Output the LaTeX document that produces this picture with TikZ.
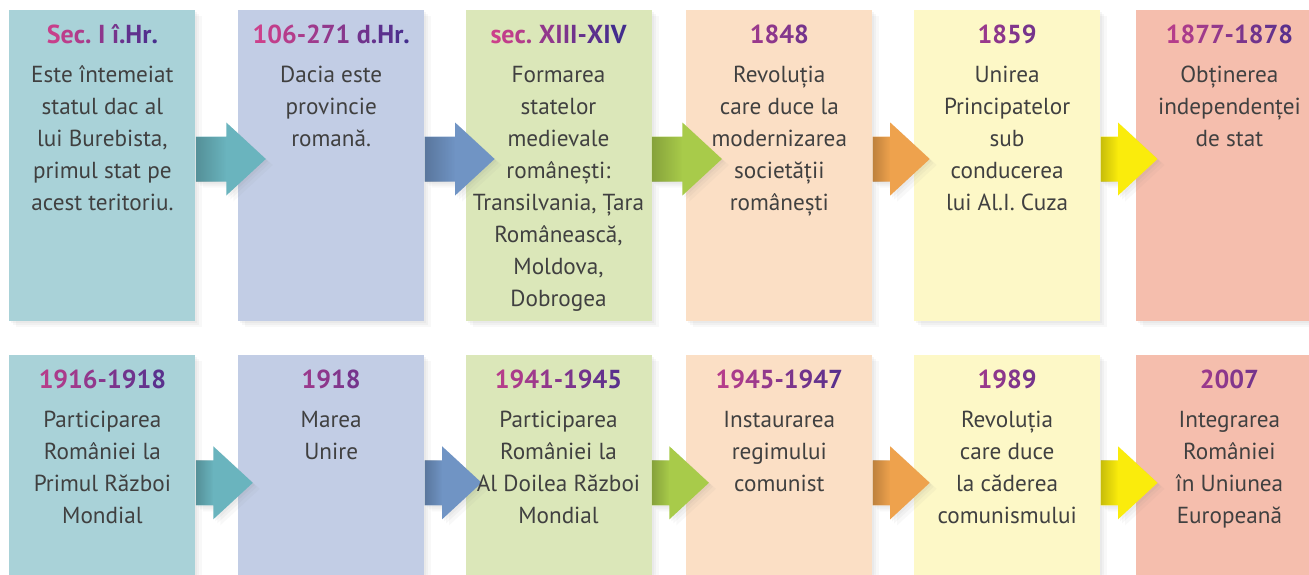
\documentclass[tikz,border=0pt]{standalone}
\usepackage{fontspec}
\setmainfont{PT Sans}
\usepackage{xcolor}
\usetikzlibrary{positioning,calc,shadows,fadings}
\definecolor{tealbg}{HTML}{A9D2D8}
\definecolor{bluebg}{HTML}{C2CDE5}
\definecolor{greenbg}{HTML}{DBE7B9}
\definecolor{peachbg}{HTML}{FBDFC5}
\definecolor{lemonbg}{HTML}{FDF8C7}
\definecolor{salmonbg}{HTML}{F5BEAD}
\definecolor{tealarr}{HTML}{6AB4BE}
\definecolor{bluearr}{HTML}{7094C4}
\definecolor{greenarr}{HTML}{A8CB4A}
\definecolor{orangearr}{HTML}{EEA24D}
\definecolor{yellowarr}{HTML}{FAEC0C}
\definecolor{yrpink}{HTML}{CC408B}
\definecolor{yrblue}{HTML}{432D8D}
\definecolor{bodygray}{HTML}{404040}
\newcommand{\bodyfont}{\fontsize{11.6}{16}\selectfont}
\newcommand{\yrfont}{\fontsize{13}{16}\selectfont\bfseries}
% year heading, letters shaded from pink to indigo (spaces written as ~)
\makeatletter
\newcount\yr@n \newcount\yr@i \newcount\yr@p
\newcommand{\yr}[1]{{\yrfont\rule{0pt}{11pt}%
  \yr@n=0 \@tfor\yr@c:=#1\do{\advance\yr@n by 1}%
  \yr@i=0 \@tfor\yr@c:=#1\do{%
    \yr@p=\numexpr 50+(\yr@n-1-2*\yr@i)*50/12\relax
    \ifnum\yr@p>100 \yr@p=100 \fi \ifnum\yr@p<0 \yr@p=0 \fi
    \textcolor{yrpink!\the\yr@p!yrblue}{\yr@c}\advance\yr@i by 1}}}
\makeatother
% block arrow leaving a box: #1 box, #2 colour, #3 shaft length, #4 depth below top
\newcommand{\epocharrow}[4]{%
  \fill[#2, softshadow] ($(#1.north east)+(0,-#4)$) coordinate (#1-a)
    ++(0,11.25pt) -- ++(#3,0) -- ++(0,7pt) -- ++(19.75pt,-18.25pt)
    -- ++(-19.75pt,-18.25pt) -- ++(0,7pt) -- ++(-#3,0) -- cycle;
  \fill[black, opacity=0.2, path fading=east]
    ($(#1-a)+(0,11.25pt)$) rectangle ++(#3,-22.5pt);}
\tikzset{
  softshadow/.style={
    drop shadow={shadow xshift=1pt, shadow yshift=-1pt, opacity=0.07},
    drop shadow={shadow xshift=2pt, shadow yshift=-2pt, opacity=0.06},
    drop shadow={shadow xshift=3.5pt, shadow yshift=-3pt, opacity=0.05}},
  epochbox/.style={minimum width=93pt, minimum height=155.5pt, inner sep=0pt,
    softshadow},
  lowbox/.style={minimum height=115pt},
  tealbox/.style={epochbox, fill=tealbg},
  bluebox/.style={epochbox, fill=bluebg},
  greenbox/.style={epochbox, fill=greenbg},
  peachbox/.style={epochbox, fill=peachbg},
  lemonbox/.style={epochbox, fill=lemonbg},
  salmonbox/.style={epochbox, fill=salmonbg},
  epochtxt/.style={anchor=north, inner sep=0pt, align=center, text=bodygray,
    font=\bodyfont},
}
\begin{document}
\begin{tikzpicture}[node distance=16.5pt and 21pt]
  \clip (0,0) rectangle (654.5pt,-287pt);
  \fill[white] (0,0) rectangle (654.5pt,-287pt);

  % Top row
  \node[tealbox, anchor=north west] (t1) at (4.5pt,-5pt) {};
  \node[bluebox, right=21pt of t1] (t2) {};
  \node[greenbox, right=20.25pt of t2] (t3) {};
  \node[peachbox, right=17pt of t3] (t4) {};
  \node[lemonbox, right=20.5pt of t4] (t5) {};
  \node[salmonbox, right=17.75pt of t5] (t6) {};

  % Bottom row
  \node[tealbox, lowbox, below=of t1] (b1) {};
  \node[bluebox, lowbox, below=of t2] (b2) {};
  \node[greenbox, lowbox, below=of t3] (b3) {};
  \node[peachbox, lowbox, below=of t4] (b4) {};
  \node[lemonbox, lowbox, below=of t5] (b5) {};
  \node[salmonbox, lowbox, below=of t6] (b6) {};

  % Arrows
  \epocharrow{t1}{tealarr}{15.25pt}{74.5pt}
  \epocharrow{t2}{bluearr}{15.25pt}{74.5pt}
  \epocharrow{t3}{greenarr}{15.25pt}{74.5pt}
  \epocharrow{t4}{orangearr}{8.75pt}{74.5pt}
  \epocharrow{t5}{yellowarr}{8.75pt}{74.5pt}
  \epocharrow{b1}{tealarr}{8.75pt}{64pt}
  \epocharrow{b2}{bluearr}{8.75pt}{64pt}
  \epocharrow{b3}{greenarr}{8.75pt}{64pt}
  \epocharrow{b4}{orangearr}{8.75pt}{64pt}
  \epocharrow{b5}{yellowarr}{8.75pt}{64pt}

  % Texts, top row
  \node[epochtxt] (t1-txt) at ([yshift=-5.5pt]t1.north)
    {\yr{Sec.~I~î.Hr.}\\[3.5pt] Este întemeiat\\statul dac al\\lui Burebista,\\primul stat pe\\acest teritoriu.};
  \node[epochtxt] (t2-txt) at ([yshift=-5.5pt]t2.north)
    {\yr{106-271~d.Hr.}\\[3.5pt] Dacia este\\provincie\\romană.};
  \node[epochtxt] (t3-txt) at ([yshift=-5.5pt]t3.north)
    {\yr{sec.~XIII-XIV}\\[3.5pt] Formarea\\statelor\\medievale\\românești:\\Transilvania, Țara\\Românească,\\Moldova,\\Dobrogea};
  \node[epochtxt] (t4-txt) at ([yshift=-5.5pt]t4.north)
    {\yr{1848}\\[3.5pt] Revoluția\\care duce la\\modernizarea\\societății\\românești};
  \node[epochtxt] (t5-txt) at ([yshift=-5.5pt]t5.north)
    {\yr{1859}\\[3.5pt] Unirea\\Principatelor\\sub\\conducerea\\lui Al.I. Cuza};
  \node[epochtxt] (t6-txt) at ([yshift=-5.5pt]t6.north)
    {\yr{1877-1878}\\[3.5pt] Obținerea\\independenței\\de stat};

  % Texts, bottom row
  \node[epochtxt] (b1-txt) at ([yshift=-5.5pt]b1.north)
    {\yr{1916-1918}\\[3.5pt] Participarea\\României la\\Primul Război\\Mondial};
  \node[epochtxt] (b2-txt) at ([yshift=-5.5pt]b2.north)
    {\yr{1918}\\[3.5pt] Marea\\Unire};
  \node[epochtxt] (b3-txt) at ([yshift=-5.5pt]b3.north)
    {\yr{1941-1945}\\[3.5pt] Participarea\\României la\\Al Doilea Război\\Mondial};
  \node[epochtxt] (b4-txt) at ([yshift=-5.5pt]b4.north)
    {\yr{1945-1947}\\[3.5pt] Instaurarea\\regimului\\comunist};
  \node[epochtxt] (b5-txt) at ([yshift=-5.5pt]b5.north)
    {\yr{1989}\\[3.5pt] Revoluția\\care duce\\la căderea\\comunismului};
  \node[epochtxt] (b6-txt) at ([yshift=-5.5pt]b6.north)
    {\yr{2007}\\[3.5pt] Integrarea\\României\\în Uniunea\\Europeană};
\end{tikzpicture}
\end{document}
